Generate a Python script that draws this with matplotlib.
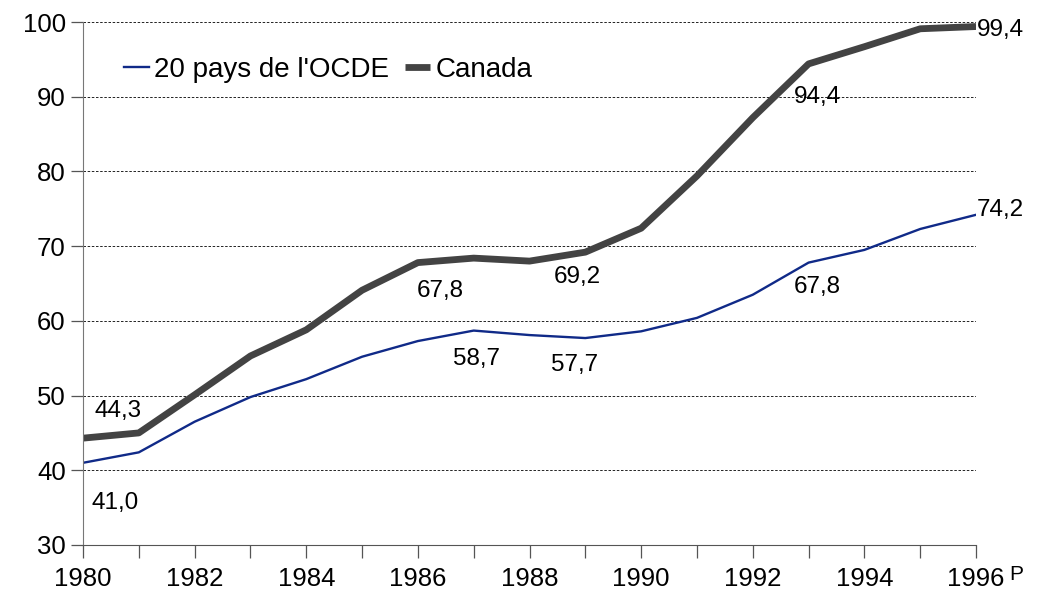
import matplotlib.pyplot as plt
import numpy as np

plt.rcParams['font.family'] = ['Liberation Sans', 'DejaVu Sans']

years = list(range(1980, 1997))
ocde = [41.0, 42.4, 46.5, 49.8, 52.2, 55.2, 57.3, 58.7, 58.1, 57.7,
        58.6, 60.4, 63.5, 67.8, 69.5, 72.3, 74.2]
canada = [44.3, 45.0, 50.1, 55.3, 58.8, 64.1, 67.8, 68.4, 68.0, 69.2,
          72.4, 79.4, 87.2, 94.4, 96.7, 99.1, 99.4]

# etiquettes : (texte, x, y, alignement)
labels = [('44,3', 1980.2, 47.9, 'left'), ('41,0', 1980.15, 35.6, 'left'),
          ('67,8', 1986.4, 64.0, 'center'), ('58,7', 1987.05, 54.9, 'center'),
          ('69,2', 1988.85, 65.9, 'center'), ('57,7', 1988.8, 54.1, 'center'),
          ('94,4', 1993.15, 90.0, 'center'), ('67,8', 1993.15, 64.5, 'center'),
          ('99,4', 1996.02, 99.0, 'left'), ('74,2', 1996.02, 74.8, 'left')]

fig = plt.figure(figsize=(10.4, 5.96), dpi=100)
ax = fig.add_axes([0.0798, 0.0856, 0.8587, 0.8774])

ax.plot(years, ocde, color='#102a88', lw=1.7, label="20 pays de l'OCDE")
ax.plot(years, canada, color='#434343', lw=4.9, label='Canada', solid_capstyle='butt')

for t, x, y, ha in labels:
    ax.text(x, y, t, fontsize=17.5, ha=ha, va='center')

ax.set_xlim(1980, 1996)
ax.set_ylim(30, 100)
ax.set_yticks(np.arange(30, 101, 10))
ax.set_xticks(years)
ax.set_xticklabels([str(y) if y % 2 == 0 else '' for y in years])
ax.grid(axis='y', color='black', ls=(0, (3, 2)), lw=0.6)
ax.tick_params(axis='both', labelsize=18.5, length=9, width=0.9, color='#555555')
ax.tick_params(axis='x', pad=7)
for s in ['top', 'right']:
    ax.spines[s].set_visible(False)
ax.spines['left'].set_color('#777777')
ax.spines['bottom'].set_color('#555555')
ax.text(1996.6, 26.0, 'P', fontsize=15, ha='left', va='center', clip_on=False)

ax.legend(loc='center left', bbox_to_anchor=(0.046, 0.908), ncol=2, frameon=False,
          fontsize=20, handlelength=0.9, handletextpad=0.18, columnspacing=0.58,
          borderaxespad=0, borderpad=0)

fig.savefig('out.png', dpi=100)
